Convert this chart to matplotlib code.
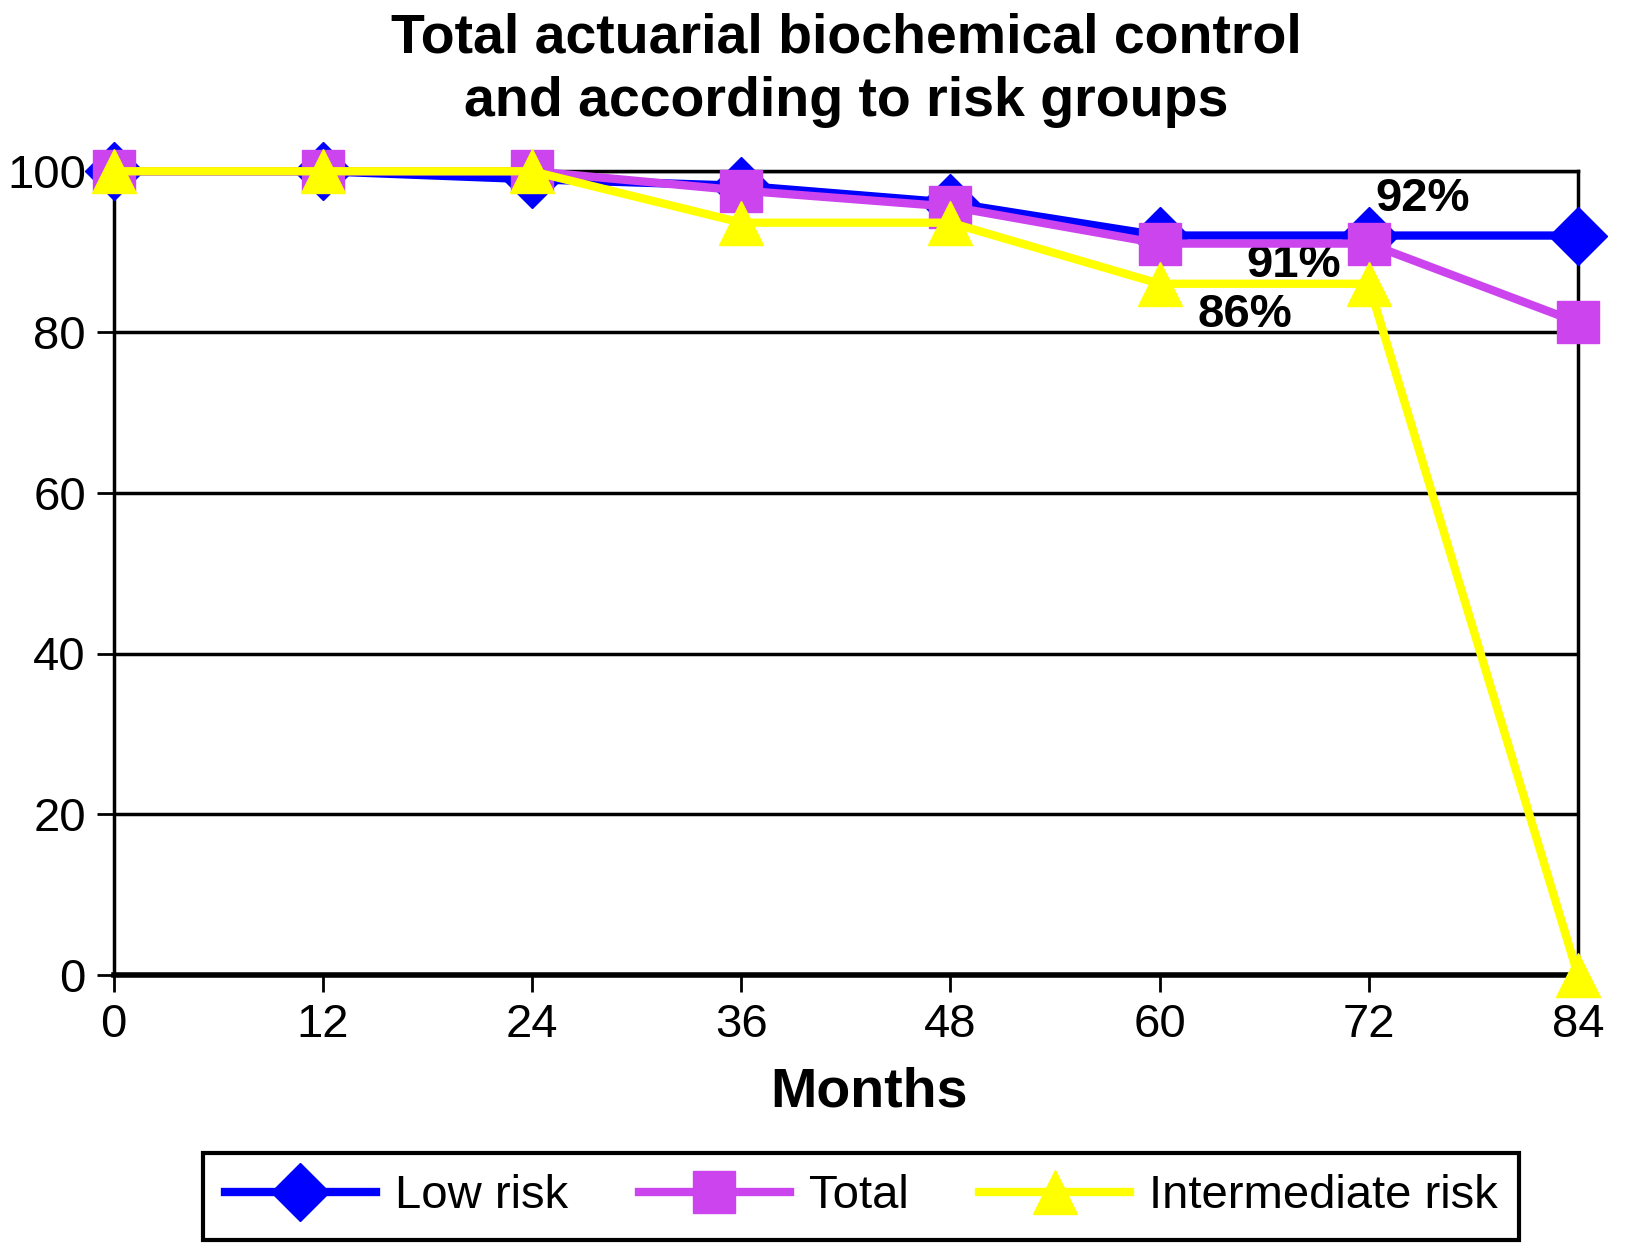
import matplotlib.pyplot as plt

plt.rcParams['font.family'] = ['Liberation Sans', 'DejaVu Sans']

# data
months = [0, 12, 24, 36, 48, 60, 72, 84]
low_risk = [100, 100, 99, 98.2, 96.1, 92, 92, 92]
total = [100, 100, 100, 97.6, 95.6, 91, 91, 81.2]
intermediate = [100, 100, 100, 93.6, 93.6, 86, 86, 0]

fig = plt.figure(figsize=(16.25, 12.5), dpi=100)
ax = fig.add_axes([0.070, 0.220, 0.901, 0.643])

ax.plot(months, low_risk, color='#0000ff', lw=6, marker='D', ms=30,
        label='Low risk', clip_on=False, zorder=3)
ax.plot(months, total, color='#cc44ee', lw=6, marker='s', ms=30,
        label='Total', clip_on=False, zorder=4)
ax.plot(months, intermediate, color='#ffff00', lw=6, marker='^', ms=32,
        label='Intermediate risk', clip_on=False, zorder=5)

ax.set_xlim(0, 84)
ax.set_ylim(0, 100)
ax.set_xticks(months)
ax.set_yticks([0, 20, 40, 60, 80, 100])
ax.tick_params(labelsize=34, length=12, width=2, direction='out', pad=8)
for s in ax.spines.values():
    s.set_linewidth(2.5)
ax.spines['bottom'].set_linewidth(4)
ax.yaxis.grid(True, color='black', lw=2.5)
ax.set_axisbelow(True)

ax.text(72.4, 95, '92%', fontsize=34, fontweight='bold')
ax.text(65, 86.8, '91%', fontsize=34, fontweight='bold')
ax.text(62.2, 80.6, '86%', fontsize=34, fontweight='bold')

ax.set_xlabel('Months', fontsize=40, fontweight='bold', labelpad=14)
ax.xaxis.label.set_x(0.516)
fig.suptitle('Total actuarial biochemical control\nand according to risk groups',
             x=0.521, fontsize=40, fontweight='bold', y=0.99, linespacing=1.3)

leg = fig.legend(loc='center', bbox_to_anchor=(0.530, 0.043), ncol=3,
                 fontsize=34, frameon=True, fancybox=False, edgecolor='black',
                 framealpha=1, handlelength=3.2, handletextpad=0.4,
                 columnspacing=1.5, borderpad=0.45)
leg.get_frame().set_linewidth(3)

fig.savefig('out.png', dpi=100)
